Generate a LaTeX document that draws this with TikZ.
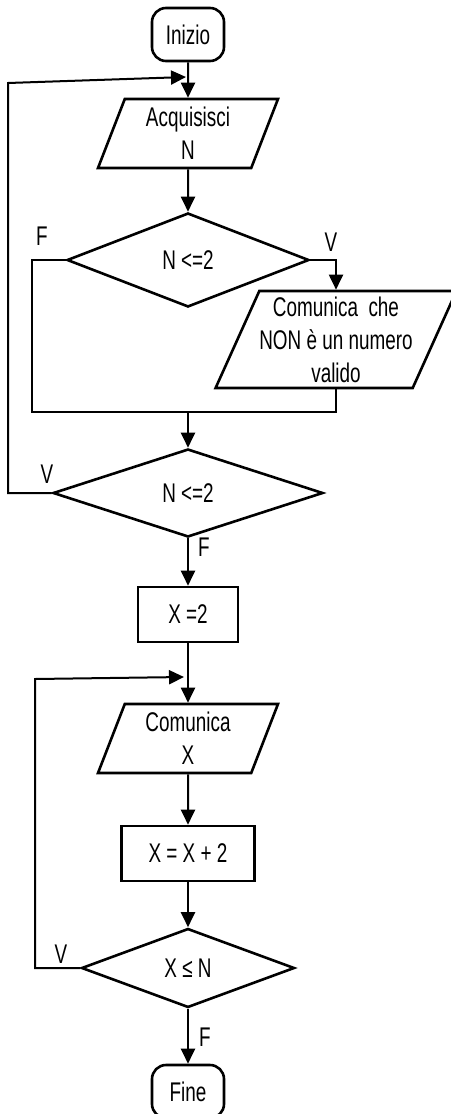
\documentclass[tikz,border=0pt]{standalone}
\usepackage{fontspec}
\setmainfont[FakeStretch=0.7]{Liberation Sans}
\usetikzlibrary{arrows.meta,shapes.geometric}
\tikzset{every picture/.style={>={Triangle[length=7.5pt,width=7pt]},line width=1pt}}
\tikzstyle{terminal} =
  [ rectangle
  , rounded corners=7pt
  , draw
  , line width=1.3pt
  , minimum width=36pt
  , minimum height=26.5pt
  , inner sep=0pt
  , font=\fontsize{13.5pt}{16.5pt}\selectfont
  ]
\tikzstyle{io_block} =
  [ trapezium
  , trapezium left angle=63
  , trapezium right angle=117
  , trapezium stretches body
  , draw
  , line width=1.3pt
  , align=center
  , inner sep=0pt
  , font=\fontsize{13.5pt}{16.5pt}\selectfont
  ]
\tikzstyle{process_block} =
  [ rectangle
  , draw
  , line width=1.3pt
  , minimum height=27.5pt
  , inner sep=0pt
  , font=\fontsize{13.5pt}{16.5pt}\selectfont
  ]
\tikzstyle{decision} =
  [ diamond
  , draw
  , line width=1.3pt
  , inner sep=0pt
  , font=\fontsize{13.5pt}{16.5pt}\selectfont
  ]
\tikzstyle{branch_label} =
  [ inner sep=0pt
  , font=\fontsize{13.5pt}{16.5pt}\selectfont
  ]
\def\AcquisisciN{Acquisisci\\N}
\def\NonValido{Comunica~ che\\NON è un numero\\valido}
\def\ComunicaX{Comunica\\X}

\begin{document}
\begin{tikzpicture}[x=0.5pt,y=-0.5pt]
    \useasboundingbox (0,0) rectangle (450,1114);

    \node[terminal] (start) at (188, 34.5) {Inizio};
    \node[io_block, minimum width=90pt, minimum height=34.5pt] (read_n) at (188, 133.5) {\AcquisisciN};
    \draw[->] (start) -- (read_n);

    % primo controllo
    \node[decision, minimum width=121pt, minimum height=47pt] (check_first) at (188, 260) {N <=2};
    \draw[->] (read_n) -- (check_first);
    \node[io_block, minimum width=114pt, minimum height=48.5pt] (not_valid) at (336, 339.5) {\NonValido};
    \draw[->] (check_first.east) -| (not_valid.north);
    \node[branch_label] (v_first) at (331, 242) {V};
    \node[branch_label] (f_first) at (42, 236) {F};

    \coordinate (merge_left) at (32, 412);
    \draw (check_first.west) -| (merge_left) -- (merge_left -| not_valid.south) -- (not_valid.south);

    % secondo controllo
    \node[decision, minimum width=135pt, minimum height=44pt] (check_again) at (188, 493) {N <=2};
    \draw[->] (merge_left -| check_again.north) -- (check_again.north);
    \coordinate (loop_n) at (8, 83);
    \coordinate (loop_n_in) at (186, 77);
    \draw[->] (check_again.west) -| (loop_n) -- (loop_n_in);
    \node[branch_label] (v_again) at (47, 474) {V};

    \node[process_block, minimum width=50pt] (init_x) at (188, 614.5) {X =2};
    \draw[->] (check_again.south) -- (init_x);
    \node[branch_label] (f_again) at (204, 547) {F};

    % ciclo dei numeri pari
    \node[io_block, minimum width=90pt, minimum height=34.5pt] (write_x) at (188, 738.5) {\ComunicaX};
    \draw[->] (init_x) -- (write_x);
    \node[process_block, minimum width=66.5pt] (step_x) at (188, 853.5) {X = X + 2};
    \draw[->] (write_x) -- (step_x);
    \node[decision, minimum width=106.5pt, minimum height=39.5pt] (check_x) at (188, 968) {X ≤ N};
    \draw[->] (step_x) -- (check_x);
    \coordinate (loop_x) at (35, 679);
    \coordinate (loop_x_in) at (184, 677);
    \draw[->] (check_x.west) -| (loop_x) -- (loop_x_in);
    \node[branch_label] (v_x) at (61, 954) {V};

    \node[terminal] (stop) at (188, 1091.5) {Fine};
    \draw[->] (check_x.south) -- (stop);
    \node[branch_label] (f_x) at (205, 1037) {F};
  \end{tikzpicture}
\end{document}
